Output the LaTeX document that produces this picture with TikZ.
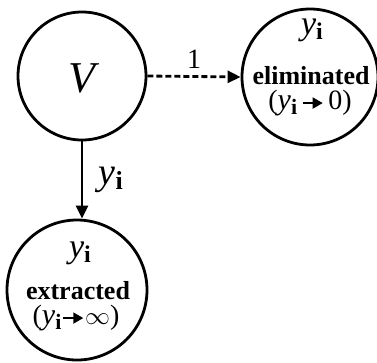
\documentclass[tikz,border=0pt]{standalone}
\usepackage{fontspec}
\setmainfont{Liberation Serif}
\usetikzlibrary{arrows.meta}
\newcommand{\yi}[2]{{\fontsize{#1}{#1}\selectfont\itshape y}{\fontsize{#2}{#2}\selectfont\raisebox{-0.45ex}{\bfseries i}}}
\newcommand{\arr}{\tikz[baseline=-0.5ex]\draw[line width=1.8pt,-{Triangle[length=10pt,width=11pt]}] (0,0)--(20pt,0);}
\begin{document}
\begin{tikzpicture}[x=1pt,y=-1pt,
  circ/.style={draw,circle,line width=2.8pt,minimum size=#1,inner sep=0pt},
  conn/.style={line width=2.8pt,-{Triangle[length=13pt,width=12pt]}}]
\useasboundingbox (0,0) rectangle (377,362);
\node[circ=128pt] (v) at (82,76) {};
\node at (82,78) {\fontsize{44}{44}\selectfont\itshape V};
\node[circ=136pt] (e) at (310,77) {};
\node[circ=140pt] (x) at (77,290) {};
\node (et) at (312,30) {\yi{34}{24}};
\node (el) at (311,76) {\fontsize{26}{26}\selectfont\bfseries eliminated};
\node (ea) at (310,103) {\fontsize{28}{28}\selectfont(\yi{30}{22}\,\arr\,0)};
\node (xt) at (80,253) {\yi{34}{24}};
\node (xl) at (78,291) {\fontsize{26}{26}\selectfont\bfseries extracted};
\node (xa) at (76,318) {\fontsize{28}{28}\selectfont(\yi{30}{22}\kern1pt\arr\kern1pt$\infty$)};
\draw[conn,dash pattern=on 6pt off 3pt] (v.east) -- (e.west) node[midway,above=3pt] {\fontsize{28}{28}\selectfont 1};
\draw[conn] (v.south) -- (v.south |- x.north) node[midway,right=12pt] {\yi{38}{26}};
\end{tikzpicture}
\end{document}
